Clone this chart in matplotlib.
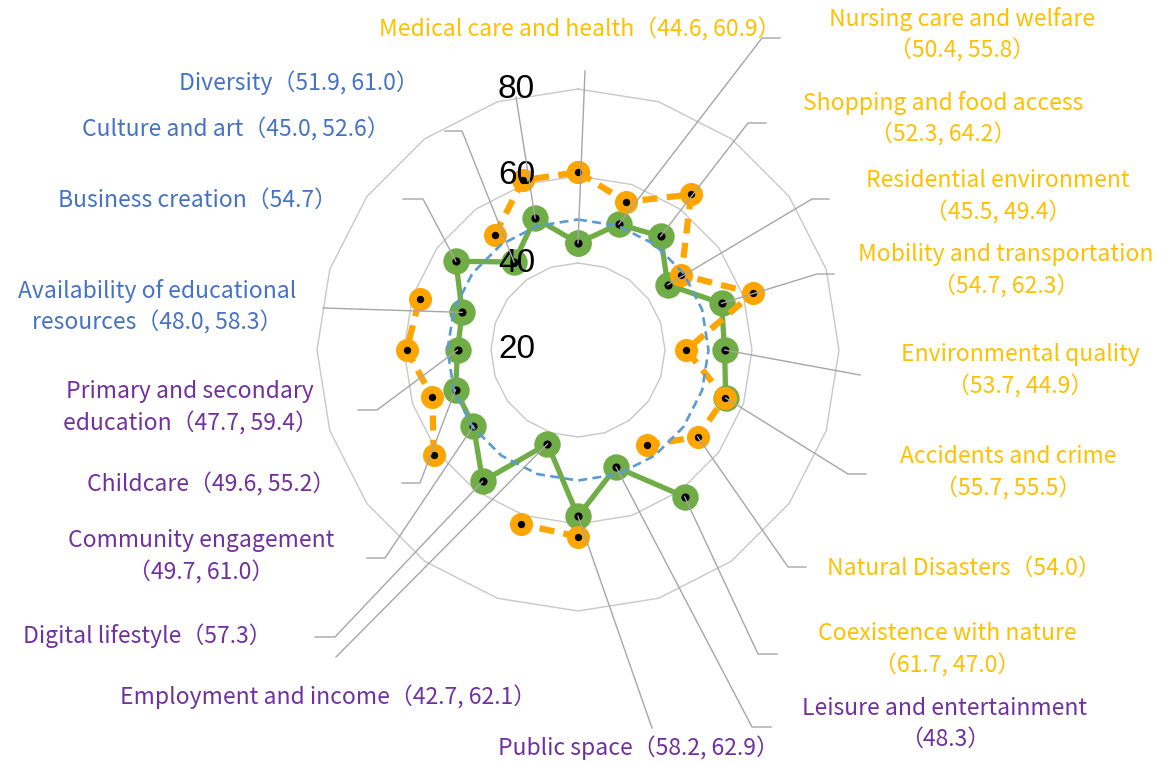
import numpy as np
import matplotlib
matplotlib.use("Agg")
import matplotlib.pyplot as plt
from matplotlib.lines import Line2D
from matplotlib.transforms import IdentityTransform, offset_copy

# ---------------- data ----------------
categories = [
    "Medical care and health", "Nursing care and welfare", "Shopping and food access",
    "Residential environment", "Mobility and transportation", "Environmental quality",
    "Accidents and crime", "Natural Disasters", "Coexistence with nature",
    "Leisure and entertainment", "Public space", "Employment and income",
    "Digital lifestyle", "Community engagement", "Childcare",
    "Primary and secondary education", "Availability of educational resources",
    "Business creation", "Culture and art", "Diversity",
]
series_green = [44.6, 50.4, 52.3, 45.5, 54.7, 53.7, 55.7, None, 61.7, 48.3,
                58.2, 42.7, 57.3, 49.7, 49.6, 47.7, 48.0, 54.7, 45.0, 51.9]
series_orange = [60.9, 55.8, 64.2, 49.4, 62.3, 44.9, 55.5, 54.0, 47.0, None,
                 62.9, 62.1, None, 61.0, 55.2, 59.4, 58.3, None, 52.6, 61.0]
reference = [50.0] * 20
groups = ["env"] * 9 + ["life"] * 7 + ["edu"] * 4
r_ticks = [20, 40, 60, 80]

# how the label text is broken into lines
label_names = list(categories)
label_names[15] = "Primary and secondary\neducation"
label_names[16] = "Availability of educational\nresources"
break_before_values = [False, True, True, True, True, True, True, False, True, True,
                       False, False, False, True, False, False, False, False, False, False]

# ---------------- layout (pixels, y from top) ----------------
W, H = 1176, 763
CX, CY, RPX = 578, 350, 261
label_pos = [(580, 30), (962, 35), (943, 119), (998, 197), (1006, 271), (1020, 371),
             (1008, 473), (964, 568), (947, 650), (945, 724), (638, 748), (328, 697),
             (147, 636), (201, 557), (211, 485), (190, 408), (157, 307), (197, 200),
             (236, 130), (299, 83)]
leader_pts = [
    [(585, 71)], [(762, 38), (780, 38)], [(748, 123), (766, 123)], [(812, 199), (829, 199)],
    [(817, 274), (834, 274)], [(860, 375)], [(848, 474), (866, 474)], [(788, 567), (806, 567)],
    [(758, 654), (777, 654)], [(752, 727), (771, 727)], [(652, 728)], [(336, 657)],
    [(335, 637), (315, 637)], [(385, 558), (367, 558)], [(420, 483), (402, 483)],
    [(377, 410), (358, 410)], [(323, 308)], [(423, 199), (403, 199)], [(462, 131), (445, 131)],
    [(516, 97)],
]
group_colors = {"env": "#FFC000", "life": "#7030A0", "edu": "#4472C4"}
GREEN, ORANGE, BLUE, GRID, LEADER = "#70AD47", "#FFA500", "#5B9BD5", "#C8C8C8", "#A6A6A6"
LABEL_FONT = ["Noto Sans CJK JP", "DejaVu Sans"]

fig = plt.figure(figsize=(W / 100, H / 100), dpi=100)
fig.patch.set_facecolor("white")
ax = fig.add_axes([(CX - RPX) / W, (H - CY - RPX) / H, 2 * RPX / W, 2 * RPX / H],
                  projection="polar")
ax.set_theta_zero_location("N")
ax.set_theta_direction(-1)
ax.set_ylim(r_ticks[0], r_ticks[-1])
ax.axis("off")

n = len(categories)
theta = np.linspace(0, 2 * np.pi, n, endpoint=False)
theta_c = np.append(theta, theta[0])


def closed(vals):
    arr = np.array([np.nan if v is None else v for v in vals], dtype=float)
    return np.append(arr, arr[0])


# polygon grid
for r in r_ticks[1:]:
    ax.plot(theta_c, [r] * (n + 1), color=GRID, lw=1.0, zorder=0.5, clip_on=False)

# series
ax.plot(theta_c, closed(series_green), color=GREEN, lw=3.8, marker="o", ms=12.5,
        mfc="black", mec=GREEN, mew=6.5, zorder=2, clip_on=False)
ax.plot(theta_c, closed(series_orange), color=ORANGE, lw=4.5, dashes=(2.4, 1.5),
        marker="o", ms=11, mfc="black", mec=ORANGE, mew=5.6, zorder=3, clip_on=False)
ax.plot(theta_c, closed(reference), color=BLUE, lw=1.9, dashes=(3.4, 2.0), zorder=4,
        clip_on=False)

# radial tick labels
tick_tr = offset_copy(ax.transData, fig=fig, x=-43, y=0, units="dots")
for r in r_ticks:
    ax.text(0, r, str(r), transform=tick_tr, ha="right", va="center", fontsize=24,
            family="Liberation Sans", color="black", zorder=6)

# leader lines and labels
fig.canvas.draw()
for i in range(n):
    v0 = series_green[i] if series_green[i] is not None else series_orange[i]
    sx, sy = ax.transData.transform((theta[i], v0))
    xs = [sx] + [p[0] for p in leader_pts[i]]
    ys = [sy] + [H - p[1] for p in leader_pts[i]]
    fig.add_artist(Line2D(xs, ys, transform=IdentityTransform(), color=LEADER, lw=1.0,
                          zorder=5))

    vals = [v for v in (series_green[i], series_orange[i]) if v is not None]
    vtxt = "（" + ", ".join(f"{v:.1f}" for v in vals) + "）"
    sep = "\n" if break_before_values[i] else ""
    txt = label_names[i] + sep + vtxt
    lx, ly = label_pos[i]
    fig.text(lx / W, 1 - ly / H, txt, ha="center", va="center", multialignment="center",
             fontsize=16.5, family=LABEL_FONT, color=group_colors[groups[i]],
             linespacing=1.42)

fig.savefig("out.png", dpi=100, facecolor="white")
